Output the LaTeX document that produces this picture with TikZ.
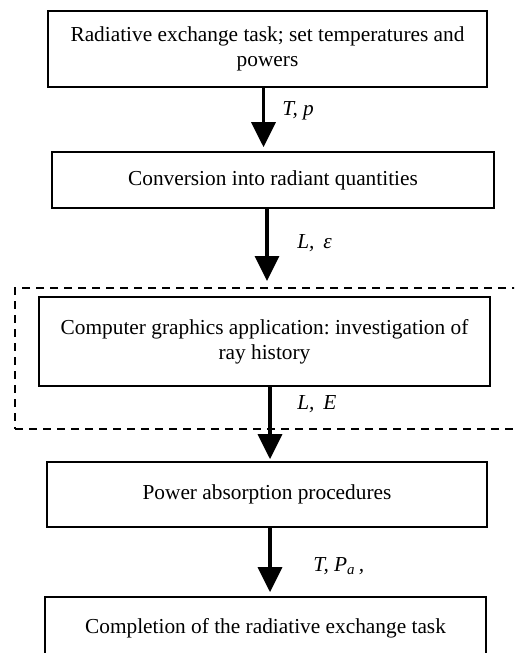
\documentclass[tikz,border=0pt]{standalone}
\usepackage{fontspec}
\setmainfont{Liberation Serif}
\usetikzlibrary{arrows.meta}
\frenchspacing
\def\pu{0.75pt}
\tikzset{
  stage/.style={draw, line width=1.3pt, rectangle, inner sep=0pt,
    align=center, font=\fontsize{16}{18.75}\selectfont},
  flow/.style={line width=2.6pt, -{Triangle[length=18.75pt,width=18pt]}},
  lbl/.style={anchor=west, inner sep=0pt, font=\fontsize{16}{18.75}\selectfont\itshape},
  group/.style={draw, dash pattern=on 6pt off 4.5pt, line width=1.5pt, inner sep=0pt}
}
\begin{document}
\begin{tikzpicture}[x=\pu, y=-\pu]
  \useasboundingbox (0,0) rectangle (514,653);
  \clip (0,0) rectangle (514,653);

  % process stages
  \node[stage, minimum width=439*\pu, minimum height=76*\pu] (b1) at (267.5,49)
    {Radiative exchange task; set temperatures and\\powers};
  \node[stage, minimum width=442*\pu, minimum height=56*\pu] (b2) at (273,180)
    {Conversion into radiant quantities};
  \node[group, minimum width=525*\pu, minimum height=141*\pu] (grp) at (277.5,358.5) {};
  \node[stage, minimum width=451*\pu, minimum height=89*\pu] (b3) at (264.5,341.5)
    {Computer graphics application: investigation of\\ray history};
  \node[stage, minimum width=440*\pu, minimum height=65*\pu] (b4) at (267,494.5)
    {Power absorption procedures};
  \node[stage, minimum width=441*\pu, minimum height=62*\pu] (b5) at (265.5,628)
    {Completion of the radiative exchange task};

  % arrow columns
  \coordinate (c1) at (263.5,0);
  \coordinate (c2) at (267,0);
  \coordinate (c3) at (270,0);

  % data flow between stages
  \draw[flow, shorten >=4*\pu] (b1.south -| c1) -- (b2.north -| c1);
  \draw[flow, shorten >=6*\pu] (b2.south -| c2) -- (grp.north -| c2);
  \draw[flow, shorten >=2*\pu] (b3.south -| c3) -- (b4.north -| c3);
  \draw[flow, shorten >=4*\pu] (b4.south -| c3) -- (b5.north -| c3);

  % transferred quantities
  \node[lbl] (l1) at (282,111) {T, p};
  \node[lbl] (l2) at (297,243) {L,\, ε};
  \node[lbl] (l3) at (297,404) {L,\, E};
  \node[lbl] (l4) at (313,566) {T, P\textsubscript{a}\,,};
\end{tikzpicture}
\end{document}
